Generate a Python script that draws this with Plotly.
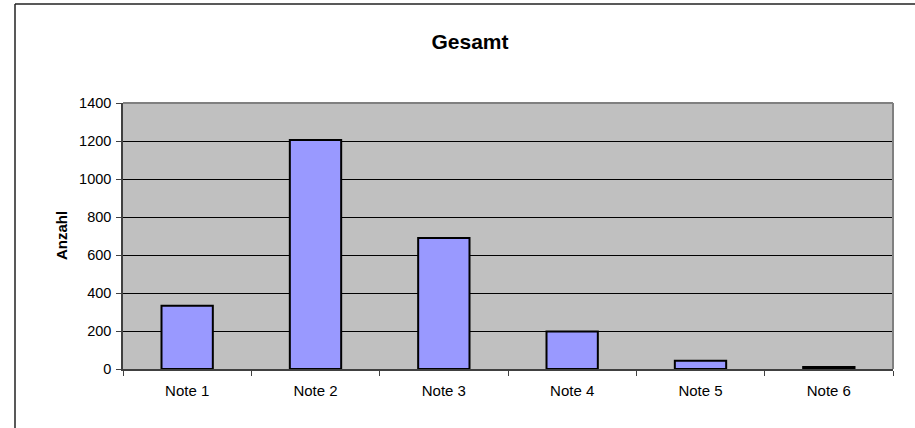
import plotly.graph_objects as go

categories = ["Note 1", "Note 2", "Note 3", "Note 4", "Note 5", "Note 6"]
values = [333, 1205, 689, 197, 44, 10]
y_ticks = [0, 200, 400, 600, 800, 1000, 1200, 1400]

W, H = 915, 428
L, R, T, B = 123, 22, 103, 59
pw, ph = W - L - R, H - T - B

def px_x(p):
    return (p - L) / pw

def px_y(p):
    return (H - B - p) / ph

FONT = "Liberation Sans, Arial, sans-serif"

fig = go.Figure()
fig.add_trace(go.Bar(
    x=categories, y=values, width=0.4,
    marker=dict(color="#9999FF", line=dict(color="black", width=2)),
    hoverinfo="x+y",
))

fig.update_layout(
    width=W, height=H,
    margin=dict(l=L, r=R, t=T, b=B, pad=0),
    paper_bgcolor="white", plot_bgcolor="#C0C0C0",
    showlegend=False,
    font=dict(family=FONT, color="black", size=13),
    title=dict(text="<b>Gesamt</b>", x=470 / W, xref="container", xanchor="center",
               y=1 - 42 / H, yref="container", yanchor="middle",
               font=dict(size=21, family=FONT, color="black")),
    xaxis=dict(
        type="category", tickson="boundaries", ticks="outside", ticklen=5,
        tickcolor="#404040", tickwidth=1,
        showline=True, linecolor="#404040", linewidth=1.5,
        showgrid=False, tickfont=dict(size=15), fixedrange=True,
        range=[-0.5, 5.5], ticklabelstandoff=7,
    ),
    yaxis=dict(
        range=[0, 1400], tickvals=y_ticks, ticks="outside", ticklen=5,
        tickcolor="#404040", tickwidth=1,
        showline=True, linecolor="#404040", linewidth=1.5,
        showgrid=True, gridcolor="black", gridwidth=1,
        zeroline=False, tickfont=dict(size=14.5), fixedrange=True,
        ticklabelstandoff=2,
    ),
    annotations=[dict(
        text="<b>Anzahl</b>", textangle=-90, xref="paper", yref="paper",
        x=px_x(61), y=0.5, xanchor="center", yanchor="middle", showarrow=False,
        font=dict(size=15, family=FONT, color="black"),
    )],
    shapes=[
        dict(type="line", xref="paper", yref="paper", x0=0, x1=1, y0=1, y1=1,
             line=dict(color="#808080", width=2)),
        dict(type="line", xref="paper", yref="paper", x0=1, x1=1, y0=0, y1=1,
             line=dict(color="#808080", width=2)),
        dict(type="line", xref="paper", yref="paper", x0=px_x(15), x1=px_x(W + 5),
             y0=px_y(4), y1=px_y(4), line=dict(color="#222222", width=1.5)),
        dict(type="line", xref="paper", yref="paper", x0=px_x(15), x1=px_x(15),
             y0=px_y(4), y1=px_y(H + 5), line=dict(color="#222222", width=1.5)),
    ],
)

fig.write_html("out.html", config={"displayModeBar": False})

with open("out.html", "r", encoding="utf-8") as f:
    html = f.read()
html = html.replace("<head>", "<head><style>html,body{margin:0;padding:0;overflow:hidden;}</style>", 1)
with open("out.html", "w", encoding="utf-8") as f:
    f.write(html)
